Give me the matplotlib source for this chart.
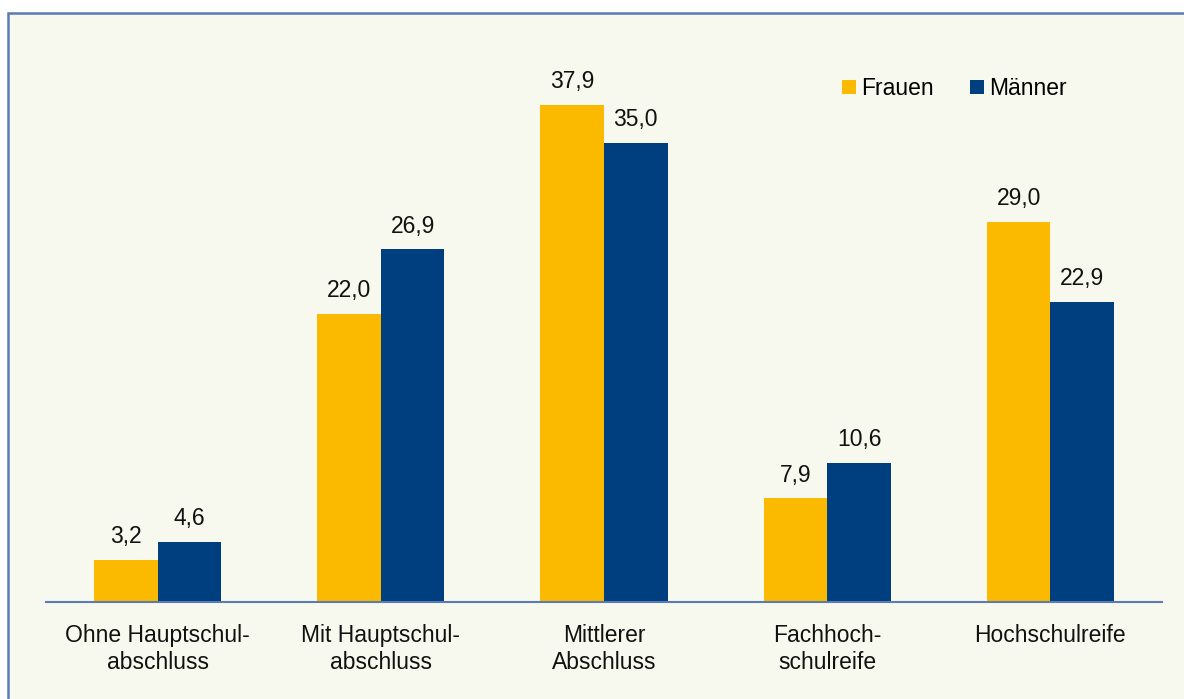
import matplotlib
matplotlib.use("Agg")
import matplotlib.pyplot as plt
import numpy as np
from matplotlib.patches import Rectangle

categories = ["Ohne Hauptschul-\nabschluss", "Mit Hauptschul-\nabschluss", "Mittlerer\nAbschluss",
              "Fachhoch-\nschulreife", "Hochschulreife"]
frauen = [3.2, 22.0, 37.9, 7.9, 29.0]
maenner = [4.6, 26.9, 35.0, 10.6, 22.9]
series_names = ["Frauen", "Männer"]

plt.rcParams['font.family'] = ['Liberation Sans', 'DejaVu Sans']

W, H = 1184, 699
fig = plt.figure(figsize=(W/100, H/100), dpi=100)
fig.patch.set_facecolor('white')

# frame
frame = Rectangle((8/W, -0.05), 1.2, 1.05 - 13/H, transform=fig.transFigure, facecolor='#F8F9EE',
                  edgecolor='#5B7BB3', linewidth=1.8, zorder=-10)
fig.patches.append(frame)

ax = fig.add_axes([46/W, (H-602)/H, 1116/W, 590/H])
ax.set_facecolor('none')
x = np.arange(len(categories))
bw = 0.285
c1, c2 = '#FBBA00', '#003F7F'
b1 = ax.bar(x - bw/2, frauen, bw, color=c1, label=series_names[0], zorder=2)
b2 = ax.bar(x + bw/2, maenner, bw, color=c2, label=series_names[1], zorder=2)

FS = 16.5

def fmt(v):
    return f"{v:.1f}".replace('.', ',')

for bars, vals in ((b1, frauen), (b2, maenner)):
    for r, v in zip(bars, vals):
        ax.annotate(fmt(v), (r.get_x() + r.get_width()/2, r.get_height()), xytext=(0, 8.5),
                    textcoords='offset points', ha='center', va='bottom', fontsize=FS, color='#111111')

ax.set_xlim(-0.5, 4.5)
ax.set_ylim(0, 45)
ax.set_xticks(x)
ax.set_xticklabels(categories, fontsize=FS, linespacing=1.2, color='#111111')
ax.tick_params(axis='x', length=0, pad=16)
ax.set_yticks([])
for s in ['top', 'right', 'left']:
    ax.spines[s].set_visible(False)
ax.spines['bottom'].set_color('#5B7BB3')
ax.spines['bottom'].set_linewidth(1.5)

leg = ax.legend(loc='upper left', bbox_to_anchor=(842/W, 1 - 77/H), bbox_transform=fig.transFigure,
                ncol=2, frameon=False, fontsize=FS, handlelength=0.62, handleheight=0.62,
                handletextpad=0.2, columnspacing=1.6, borderpad=0, borderaxespad=0)

fig.savefig("out.png", dpi=100, facecolor=fig.get_facecolor())
